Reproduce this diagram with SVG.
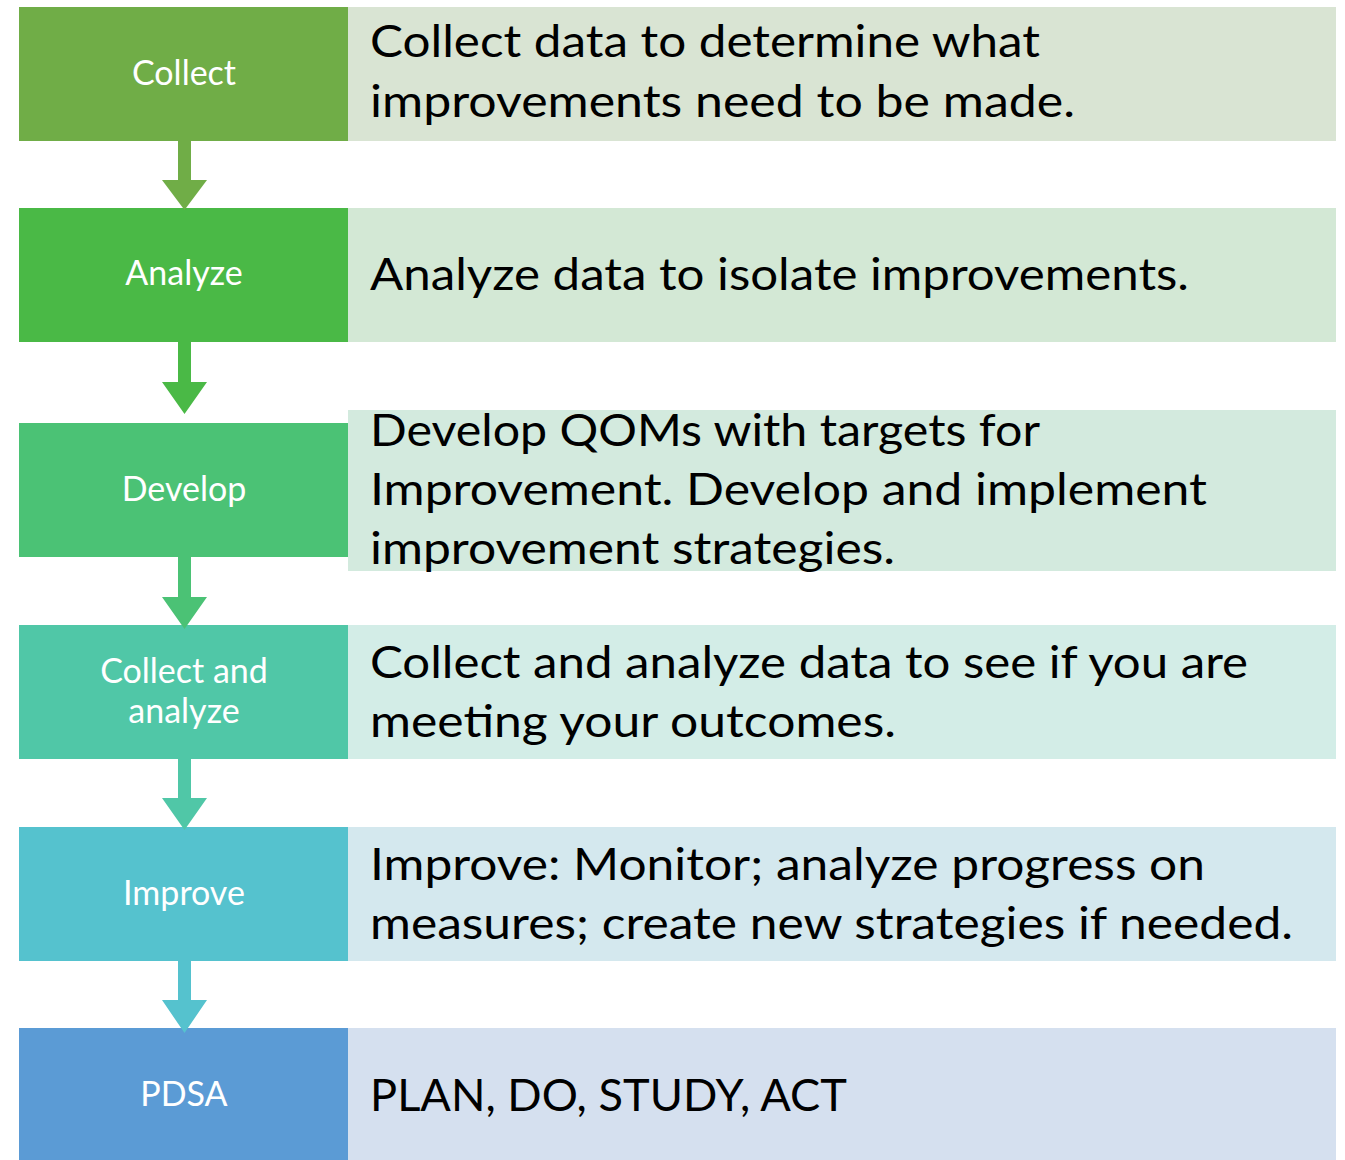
<svg xmlns="http://www.w3.org/2000/svg" width="1345" height="1160" viewBox="0 0 1345 1160">
  <style>
    .step { font-family: Lato, "Liberation Sans", sans-serif; font-size: 34px; fill: #ffffff; text-anchor: middle; }
    .desc { font-family: Lato, "Liberation Sans", sans-serif; font-size: 45px; fill: #000000; }
  </style>
  <rect width="1345" height="1160" fill="#ffffff"/>

  <!-- Step 1 -->
  <g id="collect">
    <rect x="348" y="7" width="988" height="134" fill="#D9E4D3"/>
    <rect x="19" y="7" width="329" height="134" fill="#70AD47"/>
    <text class="step" x="184" y="85">Collect</text>
    <text class="desc" x="370" y="57" textLength="670" lengthAdjust="spacingAndGlyphs">Collect data to determine what</text>
    <text class="desc" x="370" y="117" textLength="705" lengthAdjust="spacingAndGlyphs">improvements need to be made.</text>
  </g>

  <!-- Step 2 -->
  <g id="analyze">
    <rect x="348" y="208" width="988" height="134" fill="#D3E8D5"/>
    <rect x="19" y="208" width="329" height="134" fill="#4AB946"/>
    <text class="step" x="184" y="285">Analyze</text>
    <text class="desc" x="370" y="290" textLength="819" lengthAdjust="spacingAndGlyphs">Analyze data to isolate improvements.</text>
  </g>

  <!-- Step 3 -->
  <g id="develop">
    <rect x="348" y="410" width="988" height="161" fill="#D3EADE"/>
    <rect x="19" y="423" width="329" height="134" fill="#4BC275"/>
    <text class="step" x="184" y="501">Develop</text>
    <text class="desc" x="370" y="446" textLength="670" lengthAdjust="spacingAndGlyphs">Develop QOMs with targets for</text>
    <text class="desc" x="370" y="505" textLength="837" lengthAdjust="spacingAndGlyphs">Improvement. Develop and implement</text>
    <text class="desc" x="370" y="564" textLength="525" lengthAdjust="spacingAndGlyphs">improvement strategies.</text>
  </g>

  <!-- Step 4 -->
  <g id="collect-analyze">
    <rect x="348" y="625" width="988" height="134" fill="#D3EDE7"/>
    <rect x="19" y="625" width="329" height="134" fill="#50C7A7"/>
    <text class="step" x="184" y="683">Collect and</text>
    <text class="step" x="184" y="723">analyze</text>
    <text class="desc" x="370" y="678" textLength="878" lengthAdjust="spacingAndGlyphs">Collect and analyze data to see if you are</text>
    <text class="desc" x="370" y="737" textLength="526" lengthAdjust="spacingAndGlyphs">meeting your outcomes.</text>
  </g>

  <!-- Step 5 -->
  <g id="improve">
    <rect x="348" y="827" width="988" height="134" fill="#D4E8EE"/>
    <rect x="19" y="827" width="329" height="134" fill="#55C2CE"/>
    <text class="step" x="184" y="905">Improve</text>
    <text class="desc" x="370" y="880" textLength="835" lengthAdjust="spacingAndGlyphs">Improve: Monitor; analyze progress on</text>
    <text class="desc" x="370" y="939" textLength="923" lengthAdjust="spacingAndGlyphs">measures; create new strategies if needed.</text>
  </g>

  <!-- Step 6 -->
  <g id="pdsa">
    <rect x="348" y="1028" width="988" height="140" fill="#D5E0EF"/>
    <rect x="19" y="1028" width="329" height="140" fill="#5B9BD5"/>
    <text class="step" x="184" y="1106">PDSA</text>
    <text class="desc" x="370" y="1111" textLength="477" lengthAdjust="spacingAndGlyphs">PLAN, DO, STUDY, ACT</text>
  </g>

  <!-- Down arrows between steps -->
  <g id="connectors">
    <path d="M178,141 H191 V180 H207 L184.5,210 L162,180 H178 Z" fill="#70AD47"/>
    <path d="M178,342 H191 V382 H207 L184.5,414 L162,382 H178 Z" fill="#4AB946"/>
    <path d="M178,557 H191 V597 H207 L184.5,629 L162,597 H178 Z" fill="#4BC275"/>
    <path d="M178,759 H191 V798 H207 L184.5,830 L162,798 H178 Z" fill="#50C7A7"/>
    <path d="M178,961 H191 V1000 H207 L184.5,1033 L162,1000 H178 Z" fill="#55C2CE"/>
  </g>
</svg>
